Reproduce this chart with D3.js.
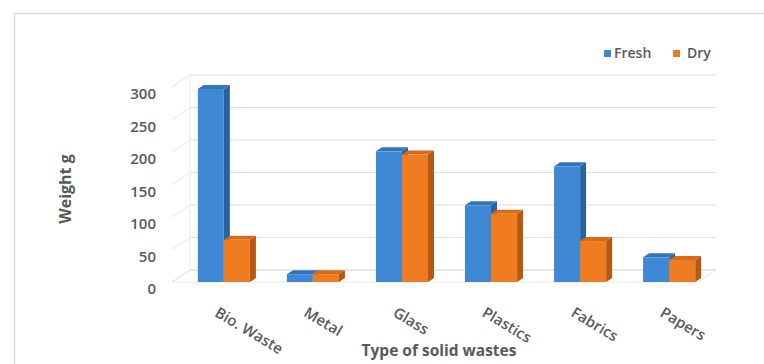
<!DOCTYPE html>
<html>
<head>
<meta charset="utf-8">
<script src="https://cdn.jsdelivr.net/npm/d3@7"></script>
<style>
  html, body { margin: 0; padding: 0; background: #fff; }
  svg { display: block; }
  text { font-family: "Open Sans", "Liberation Sans", sans-serif; fill: #595959; }
</style>
</head>
<body>
<svg id="chart" width="764" height="364"></svg>
<script>
const categories = ["Bio. Waste", "Metal", "Glass", "Plastics", "Fabrics", "Papers"];
const seriesNames = ["Fresh", "Dry"];
const freshValues = [297, 12, 201, 118, 178, 38];
const dryValues = [65, 12, 196, 105, 63, 34];
const yTicks = [0, 50, 100, 150, 200, 250, 300];
const yTitle = "Weight g";
const xTitle = "Type of solid wastes";

const frontColors = { Fresh: "#3f88d5", Dry: "#f07c22" };
const sideColors = { Fresh: "#2a62a0", Dry: "#b45812" };
const topColors = { Fresh: "#3373bb", Dry: "#d66b19" };

const svg = d3.select("#chart");

// chart border
svg.append("rect")
  .attr("x", 14.5).attr("y", 13.5)
  .attr("width", 800).attr("height", 400)
  .attr("fill", "#fff").attr("stroke", "#d9d9d9").attr("stroke-width", 1.5);

// 3D geometry
const depthX = 18, depthY = 12;   // wall depth
const barDX = 6, barDY = 4;       // bar depth
const y0Front = 282;

const yFront = d3.scaleLinear().domain([0, 300]).range([y0Front, y0Front - 195]);
const yBack = v => yFront(v) - depthY;

const x0 = d3.scaleBand().domain(categories).range([180, 713]).paddingInner(0.415).paddingOuter(0.2);
const x1 = d3.scaleBand().domain(seriesNames).range([0, x0.bandwidth()]);

const wallLeftFront = 172, wallRight = 716;

// floor
const gGrid = svg.append("g");
gGrid.append("path")
  .attr("d", `M${wallLeftFront},${y0Front} L${wallLeftFront + depthX},${y0Front - depthY} L${wallRight},${y0Front - depthY} L${wallRight - depthX},${y0Front} Z`)
  .attr("fill", "none").attr("stroke", "#e8e8e8").attr("stroke-width", 1);

// gridlines (back wall + side wall)
yTicks.forEach(t => {
  gGrid.append("line")
    .attr("x1", wallLeftFront + depthX).attr("x2", wallRight)
    .attr("y1", yBack(t)).attr("y2", yBack(t))
    .attr("stroke", "#dedede").attr("stroke-width", 1.2);
  gGrid.append("line")
    .attr("x1", wallLeftFront).attr("x2", wallLeftFront + depthX)
    .attr("y1", yFront(t)).attr("y2", yBack(t))
    .attr("stroke", "#e6e6e6").attr("stroke-width", 1);
});
gGrid.append("line")
  .attr("x1", wallLeftFront + depthX).attr("x2", wallLeftFront + depthX)
  .attr("y1", yBack(0)).attr("y2", yBack(300))
  .attr("stroke", "#ececec");

// y axis labels
const yAxis = d3.axisLeft(yFront).tickValues(yTicks).tickSize(0).tickPadding(0);
const gy = svg.append("g").attr("transform", "translate(156,7)").call(yAxis);
gy.select(".domain").remove();
gy.selectAll("text")
  .style("font-family", "'Open Sans', sans-serif")
  .style("font-size", "15px").style("font-weight", "600")
  .attr("fill", "#595959");

// bars
const data = categories.map((c, i) => ({ cat: c, vals: [
  { s: "Fresh", v: freshValues[i] },
  { s: "Dry", v: dryValues[i] }
]}));

const gBars = svg.append("g");
data.forEach(d => {
  d.vals.forEach(b => {
    const x = x0(d.cat) + x1(b.s);
    const w = x1.bandwidth();
    const yt = yFront(b.v);
    const g = gBars.append("g");
    g.append("polygon")
      .attr("points", [[x + w, yt], [x + w + barDX, yt - barDY], [x + w + barDX, y0Front - barDY], [x + w, y0Front]].join(" "))
      .attr("fill", sideColors[b.s]);
    g.append("polygon")
      .attr("points", [[x, yt], [x + barDX, yt - barDY], [x + w + barDX, yt - barDY], [x + w, yt]].join(" "))
      .attr("fill", topColors[b.s]);
    g.append("rect")
      .attr("x", x).attr("y", yt)
      .attr("width", w).attr("height", y0Front - yt)
      .attr("fill", frontColors[b.s]);
  });
});

// category labels
const gx = svg.append("g");
categories.forEach(c => {
  const cx = x0(c) + x0.bandwidth() / 2;
  gx.append("text")
    .attr("transform", `translate(${cx - 8},${312}) rotate(31)`)
    .attr("text-anchor", "start")
    .attr("dominant-baseline", "middle")
    .style("font-size", "15px").style("font-weight", "600")
    .text(c);
});

// axis titles
svg.append("text")
  .attr("transform", "translate(67,189) rotate(-90)")
  .attr("text-anchor", "middle").attr("dominant-baseline", "middle")
  .style("font-size", "16px").style("font-weight", "700")
  .text(yTitle);

svg.append("text")
  .attr("x", 439).attr("y", 352)
  .attr("text-anchor", "middle").attr("dominant-baseline", "middle")
  .style("font-size", "15.5px").style("font-weight", "700")
  .text(xTitle);

// legend
const legendPos = { Fresh: [604, 614], Dry: [673, 687] };
seriesNames.forEach(s => {
  svg.append("rect")
    .attr("x", legendPos[s][0]).attr("y", 50)
    .attr("width", 7).attr("height", 7)
    .attr("fill", frontColors[s]);
  svg.append("text")
    .attr("x", legendPos[s][1]).attr("y", 54)
    .attr("dominant-baseline", "middle")
    .style("font-size", "14px").style("font-weight", "600")
    .text(s);
});
</script>
</body>
</html>
